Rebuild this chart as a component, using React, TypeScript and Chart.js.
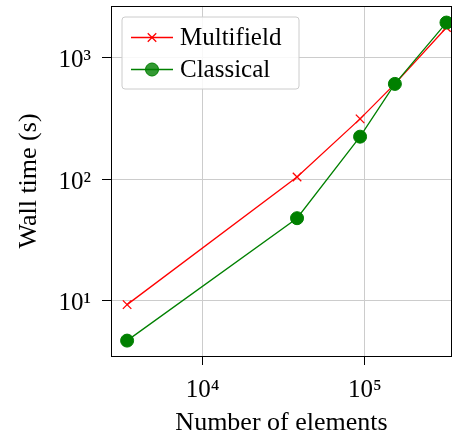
import React, { useEffect, useRef } from 'react';
import { Chart, registerables } from 'chart.js';

Chart.register(...registerables);

// ---- data ----
const elements = [3430, 38200, 93400, 153000, 318000];
const multifield = [9.3, 104, 312, 605, 1760];
const classical = [4.71, 47.7, 223, 605, 1930];
const seriesLabels = ['Multifield', 'Classical'];
const xTickValues = [1e4, 1e5];
const yTickValues = [1e1, 1e2, 1e3];
const xTitle = 'Number of elements';
const yTitle = 'Wall time (s)';
const xRange = [2730, 344000];
const yRange = [3.52, 2640];

const FONT_FAMILY = '"Liberation Serif", "DejaVu Serif", serif';
const FONT_SIZE = 25;
const RED = '#ff0000';
const GREEN = '#008000';

const SUP: Record<string, string> = {
  '0': '\u2070', '1': '\u00b9', '2': '\u00b2', '3': '\u00b3', '4': '\u2074',
  '5': '\u2075', '6': '\u2076', '7': '\u2077', '8': '\u2078', '9': '\u2079', '-': '\u207b',
};
function pow10Label(v: number): string {
  const e = Math.round(Math.log10(v));
  return '10' + String(e).split('').map((c) => SUP[c] ?? c).join('');
}

const framePlugin = {
  id: 'frame',
  afterDatasetsDraw(chart: any) {
    const { ctx, chartArea } = chart;
    const l = Math.round(chartArea.left) + 0.5;
    const t = Math.round(chartArea.top) + 0.5;
    const r = Math.round(chartArea.right) - 0.5;
    const b = Math.round(chartArea.bottom) + 0.5;
    ctx.save();
    ctx.strokeStyle = '#000';
    ctx.lineWidth = 1;
    ctx.strokeRect(l, t, r - l, b - t);
    ctx.restore();
  },
};

const legendPlugin = {
  id: 'mplLegend',
  afterDraw(chart: any) {
    const { ctx, chartArea } = chart;
    const x0 = chartArea.left + 11;
    const y0 = chartArea.top + 11;
    const w = 177;
    const h = 72;
    ctx.save();
    const rr = 3;
    ctx.beginPath();
    ctx.moveTo(x0 + rr, y0);
    ctx.lineTo(x0 + w - rr, y0);
    ctx.quadraticCurveTo(x0 + w, y0, x0 + w, y0 + rr);
    ctx.lineTo(x0 + w, y0 + h - rr);
    ctx.quadraticCurveTo(x0 + w, y0 + h, x0 + w - rr, y0 + h);
    ctx.lineTo(x0 + rr, y0 + h);
    ctx.quadraticCurveTo(x0, y0 + h, x0, y0 + h - rr);
    ctx.lineTo(x0, y0 + rr);
    ctx.quadraticCurveTo(x0, y0, x0 + rr, y0);
    ctx.closePath();
    ctx.fillStyle = 'rgba(255,255,255,0.85)';
    ctx.fill();
    ctx.strokeStyle = '#cccccc';
    ctx.lineWidth = 1;
    ctx.stroke();

    const rows = [y0 + 20.5, y0 + 52.5];
    chart.data.datasets.forEach((ds: any, i: number) => {
      const y = rows[i];
      ctx.strokeStyle = ds.borderColor;
      ctx.lineWidth = ds.borderWidth;
      ctx.beginPath();
      ctx.moveTo(x0 + 9, y);
      ctx.lineTo(x0 + 51, y);
      ctx.stroke();
      const mx = x0 + 30;
      if (ds.pointStyle === 'crossRot') {
        const d = ds.pointRadius * Math.SQRT1_2;
        ctx.beginPath();
        ctx.moveTo(mx - d, y - d);
        ctx.lineTo(mx + d, y + d);
        ctx.moveTo(mx - d, y + d);
        ctx.lineTo(mx + d, y - d);
        ctx.stroke();
      } else {
        ctx.beginPath();
        ctx.arc(mx, y, ds.pointRadius, 0, Math.PI * 2);
        ctx.fillStyle = 'rgba(0,128,0,0.8)';
        ctx.fill();
        ctx.lineWidth = 1;
        ctx.strokeStyle = ds.borderColor;
        ctx.stroke();
      }
      ctx.fillStyle = '#000';
      ctx.font = `${FONT_SIZE}px ${FONT_FAMILY}`;
      ctx.textBaseline = 'middle';
      ctx.textAlign = 'left';
      ctx.fillText(ds.label, x0 + 58, y + 1);
    });
    ctx.restore();
  },
};

export default function App() {
  const ref = useRef<HTMLCanvasElement>(null);
  useEffect(() => {
    const canvas = ref.current;
    if (!canvas) return;
    const font = { family: FONT_FAMILY, size: FONT_SIZE };
    const chart = new Chart(canvas, {
      type: 'line',
      data: {
        datasets: [
          {
            label: seriesLabels[0],
            data: elements.map((x, i) => ({ x, y: multifield[i] })),
            borderColor: RED,
            backgroundColor: RED,
            pointBorderColor: RED,
            borderWidth: 1.3,
            pointStyle: 'crossRot',
            pointRadius: 6,
            pointBorderWidth: 1.3,
            tension: 0,
            order: 2,
          },
          {
            label: seriesLabels[1],
            data: elements.map((x, i) => ({ x, y: classical[i] })),
            borderColor: GREEN,
            backgroundColor: GREEN,
            pointBackgroundColor: GREEN,
            pointBorderColor: GREEN,
            borderWidth: 1.3,
            pointStyle: 'circle',
            pointRadius: 6.5,
            pointBorderWidth: 1,
            tension: 0,
            order: 1,
          },
        ] as any,
      },
      options: {
        animation: false,
        responsive: true,
        maintainAspectRatio: false,
        layout: { autoPadding: false, padding: { left: 0, top: 6, right: 2, bottom: 0 } },
        plugins: { legend: { display: false }, tooltip: { enabled: false } },
        scales: {
          x: {
            type: 'logarithmic',
            min: xRange[0],
            max: xRange[1],
            afterBuildTicks: (s: any) => {
              s.ticks = xTickValues.map((v) => ({ value: v, major: true }));
            },
            afterFit: (s: any) => {
              s.height = 81;
              s.paddingLeft = 0;
              s.paddingRight = 0;
            },
            grid: { color: '#cccccc', lineWidth: 1, tickColor: '#000', tickLength: 9, tickWidth: 1 },
            border: { display: false },
            ticks: {
              callback: (v: any) => pow10Label(Number(v)),
              font,
              color: '#000',
              padding: 10,
              autoSkip: false,
              maxRotation: 0,
            },
            title: {
              display: true,
              text: xTitle,
              font: { family: FONT_FAMILY, size: 26, lineHeight: 1.1 },
              color: '#000',
              padding: { top: 0, bottom: 0 },
            },
          },
          y: {
            type: 'logarithmic',
            min: yRange[0],
            max: yRange[1],
            afterBuildTicks: (s: any) => {
              s.ticks = yTickValues.map((v) => ({ value: v, major: true }));
            },
            afterFit: (s: any) => {
              s.width = 111;
              s.paddingTop = 0;
              s.paddingBottom = 0;
            },
            grid: { color: '#cccccc', lineWidth: 1, tickColor: '#000', tickLength: 9, tickWidth: 1 },
            border: { display: false },
            ticks: {
              callback: (v: any) => pow10Label(Number(v)),
              font,
              color: '#000',
              padding: 11,
              labelOffset: 3,
              autoSkip: false,
            },
            title: {
              display: true,
              text: yTitle,
              font: { family: FONT_FAMILY, size: 26 },
              color: '#000',
              padding: { top: 14, bottom: 0 },
            },
          },
        },
      } as any,
      plugins: [framePlugin, legendPlugin],
    });
    return () => chart.destroy();
  }, []);
  return (
    <div style={{ position: 'absolute', left: 0, top: 0, width: 454, height: 437 }}>
      <canvas ref={ref} />
    </div>
  );
}
